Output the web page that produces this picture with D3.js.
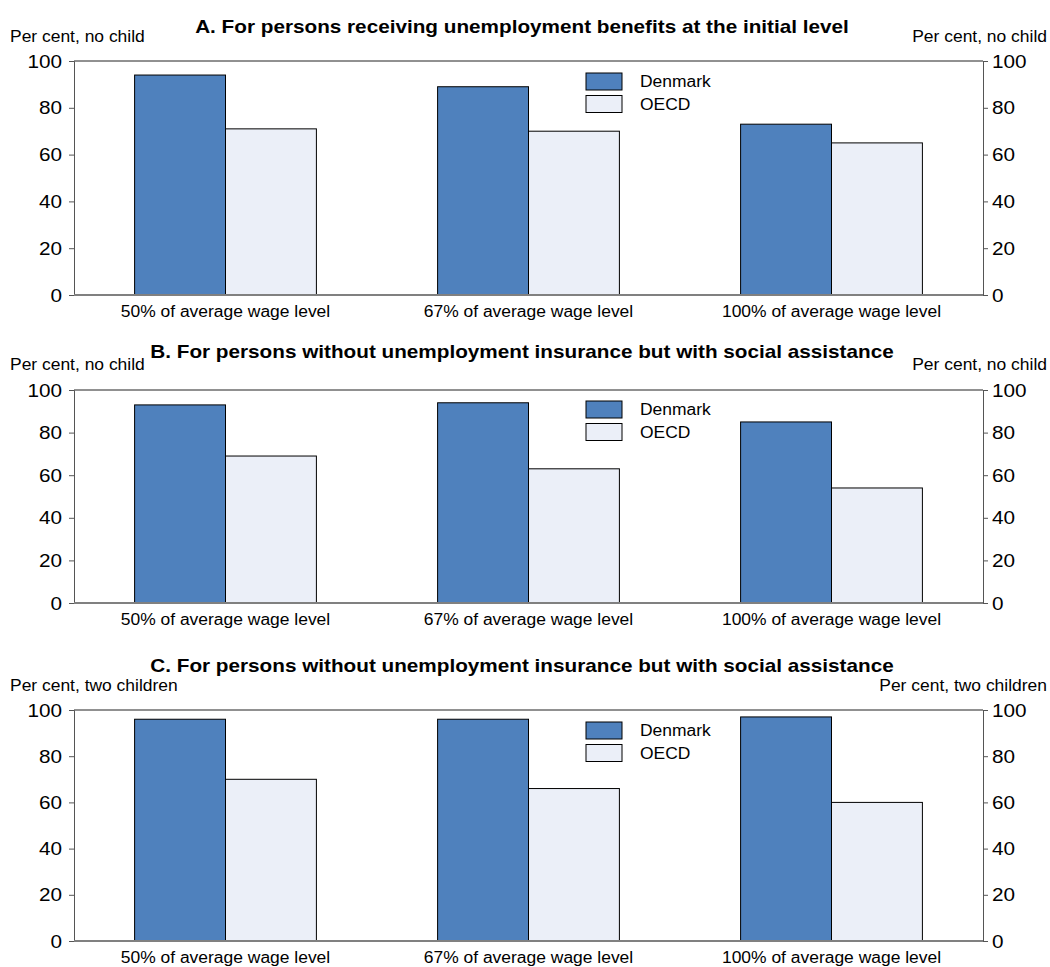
<!DOCTYPE html>
<html><head><meta charset="utf-8">
<script src="https://cdn.jsdelivr.net/npm/d3@7"></script>
<style>body{margin:0;background:#fff;} svg{display:block;font-family:"Liberation Sans",Arial,sans-serif;}</style>
</head><body>
<svg id="c" width="1050" height="967"></svg>
<script>
const categories = ["50% of average wage level","67% of average wage level","100% of average wage level"];
const seriesNames = ["Denmark","OECD"];
const titles = ["A. For persons receiving unemployment benefits at the initial level",
  "B. For persons without unemployment insurance but with social assistance",
  "C. For persons without unemployment insurance but with social assistance"];
const unitLabels = ["Per cent, no child","Per cent, no child","Per cent, two children"];
const denmarkA = [94, 89, 73];
const oecdA = [71, 70, 65];
const denmarkB = [93, 94, 85];
const oecdB = [69, 63, 54];
const denmarkC = [96, 96, 97];
const oecdC = [70, 66, 60];
const yTicks = [0, 20, 40, 60, 80, 100];
const colors = ["#4F81BD", "#EBEFF8"];

const STRETCH = 1.09;
function stretch(sel) {
  sel.each(function() {
    const n = this.getComputedTextLength();
    d3.select(this).attr("textLength", n * STRETCH).attr("lengthAdjust", "spacingAndGlyphs");
  });
}

const panels = [
  {dk: denmarkA, oe: oecdA, top: 61, bottom: 295, titleY: 33, unitY: 42, legY: 73},
  {dk: denmarkB, oe: oecdB, top: 390, bottom: 603, titleY: 358, unitY: 370, legY: 401},
  {dk: denmarkC, oe: oecdC, top: 710, bottom: 941, titleY: 672, unitY: 691, legY: 722}
];
const svg = d3.select("#c");
const L = 74, R = 983;
const x0 = d3.scaleBand().domain(categories).range([L, R]).paddingInner(0.4).paddingOuter(0.2);
const x1 = d3.scaleBand().domain(seriesNames).range([0, x0.bandwidth()]);

panels.forEach((p, i) => {
  const g = svg.append("g");
  const y = d3.scaleLinear().domain([0, 100]).range([p.bottom, p.top]);
  g.append("text").attr("x", 522).attr("y", p.titleY).attr("text-anchor", "middle")
    .attr("font-weight", "bold").attr("font-size", 19).attr("fill", "#000").text(titles[i]).call(stretch);
  g.append("text").attr("x", 10).attr("y", p.unitY).attr("font-size", 16).text(unitLabels[i]).call(stretch);
  g.append("text").attr("x", 1047).attr("y", p.unitY).attr("text-anchor", "end").attr("font-size", 16).text(unitLabels[i]).call(stretch);
  g.append("line").attr("x1", L).attr("x2", R).attr("y1", p.top).attr("y2", p.top).attr("stroke", "#222").attr("stroke-width", 1);
  const data = categories.map((c, k) => ({c, vals: [{s: seriesNames[0], v: p.dk[k]}, {s: seriesNames[1], v: p.oe[k]}]}));
  const grp = g.selectAll(".grp").data(data).join("g").attr("transform", d => `translate(${x0(d.c)},0)`);
  grp.selectAll("rect").data(d => d.vals).join("rect")
    .attr("x", d => x1(d.s)).attr("width", x1.bandwidth())
    .attr("y", d => y(d.v)).attr("height", d => y(0) - y(d.v))
    .attr("fill", (d, j) => colors[j]).attr("stroke", "#000").attr("stroke-width", 1);
  const la = g.append("g").attr("transform", `translate(${L},0)`)
    .call(d3.axisLeft(y).tickValues(yTicks).tickSize(5).tickPadding(7));
  la.select(".domain").attr("stroke", "#555");
  la.selectAll(".tick line").attr("stroke", "#555");
  la.selectAll("text").attr("font-size", 19).attr("fill", "#000").attr("font-family", "Liberation Sans, Arial, sans-serif").call(stretch);
  const ra = g.append("g").attr("transform", `translate(${R},0)`)
    .call(d3.axisRight(y).tickValues(yTicks).tickSize(5).tickPadding(4));
  ra.select(".domain").attr("stroke", "#555");
  ra.selectAll(".tick line").attr("stroke", "#555");
  ra.selectAll("text").attr("font-size", 19).attr("fill", "#000").attr("font-family", "Liberation Sans, Arial, sans-serif").call(stretch);
  g.append("line").attr("x1", L).attr("x2", R).attr("y1", y(0)).attr("y2", y(0)).attr("stroke", "#808080").attr("stroke-width", 2);
  g.selectAll(".cat").data(categories).join("text")
    .attr("x", d => x0(d) + x0.bandwidth() / 2).attr("y", p.bottom + 22)
    .attr("text-anchor", "middle").attr("font-size", 16).text(d => d).call(stretch);
  seriesNames.forEach((s, j) => {
    g.append("rect").attr("x", 586).attr("y", p.legY + j * 22.5).attr("width", 36).attr("height", 17)
      .attr("fill", colors[j]).attr("stroke", "#000");
    g.append("text").attr("x", 640).attr("y", p.legY + j * 22.5 + 14).attr("font-size", 16).text(s).call(stretch);
  });
});
</script>
</body></html>
